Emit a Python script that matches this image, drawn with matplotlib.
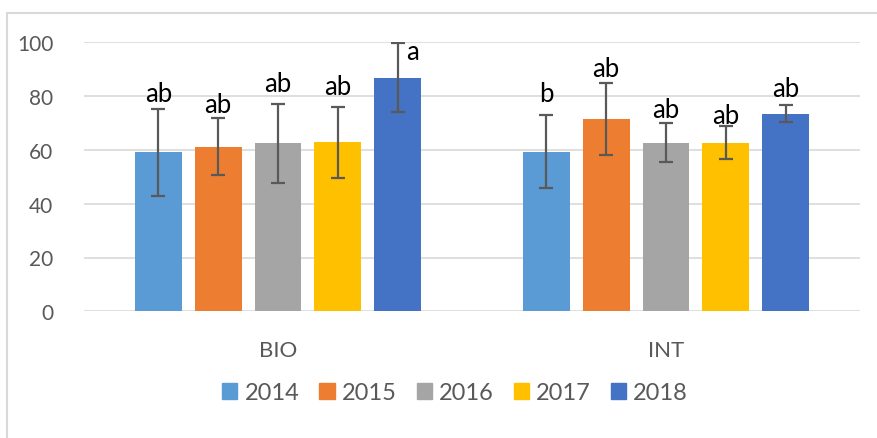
import matplotlib
matplotlib.use("Agg")
import matplotlib.pyplot as plt
from matplotlib.lines import Line2D
import numpy as np

plt.rcParams['font.family'] = ['Lato', 'DejaVu Sans']

categories = ["BIO", "INT"]
years = ["2014", "2015", "2016", "2017", "2018"]
# values[year][category]
values = {
    "2014": [59.1, 59.3],
    "2015": [61.2, 71.5],
    "2016": [62.4, 62.7],
    "2017": [62.8, 62.7],
    "2018": [86.9, 73.5],
}
errors = {
    "2014": [16.2, 13.6],
    "2015": [10.6, 13.5],
    "2016": [14.8, 7.3],
    "2017": [13.3, 6.2],
    "2018": [12.7, 3.2],
}
letters = {
    "2014": ["ab", "b"],
    "2015": ["ab", "ab"],
    "2016": ["ab", "ab"],
    "2017": ["ab", "ab"],
    "2018": ["a", "ab"],
}
letter_y = {
    "2014": [78.3, 78.3],
    "2015": [74.0, 87.6],
    "2016": [82.0, 72.1],
    "2017": [80.8, 70.0],
    "2018": [93.8, 79.9],
}
yticks = [0, 20, 40, 60, 80, 100]

colors = ["#5B9BD5", "#ED7D31", "#A5A5A5", "#FFC000", "#4472C4"]
letter_dx = {"2018": [0.038, 0.0]}

W, H = 877, 439
fig = plt.figure(figsize=(W / 100, H / 100), dpi=100)
ax = fig.add_axes([84 / W, 1 - 312.3 / H, (860 - 84) / W, (312.3 - 43.3) / H])

x = np.arange(len(categories))
step = 0.154
width = 0.121
for i, yr in enumerate(years):
    pos = x + (i - 2) * step
    ax.bar(pos, values[yr], width=width, color=colors[i], zorder=3, label=yr)
    ax.errorbar(pos, values[yr], yerr=errors[yr], fmt='none', ecolor='#595959',
                elinewidth=1.6, capsize=5, capthick=1.6, zorder=4)
    dx = letter_dx.get(yr, [0.0, 0.0])
    for j in range(len(categories)):
        ax.text(pos[j] + dx[j], letter_y[yr][j], letters[yr][j], ha='center',
                va='baseline', fontsize=18.5, color='black', zorder=5)

ax.set_xlim(-0.5, 1.5)
ax.set_ylim(0, 100)
ax.set_yticks(yticks)
ax.set_yticklabels([str(t) for t in yticks])
ax.set_xticks(x)
ax.set_xticklabels(categories)
ax.grid(axis='y', color='#D9D9D9', linewidth=1.2, zorder=0)
for s in ax.spines.values():
    s.set_visible(False)
ax.tick_params(axis='both', length=0, labelsize=15, colors='#595959')
ax.tick_params(axis='y', pad=22)
ax.tick_params(axis='x', pad=21)
for lbl in ax.get_xticklabels():
    lbl.set_fontsize(16)

handles = [plt.Rectangle((0, 0), 1, 1, color=c) for c in colors]
leg = fig.legend(handles, years, loc='center', bbox_to_anchor=(455 / W, 1 - 394 / H),
                 ncol=5, frameon=False, fontsize=17, handlelength=0.64, handleheight=0.64,
                 handletextpad=0.3, columnspacing=0.85)
for t in leg.get_texts():
    t.set_color('#595959')

# outer chart border (top and left visible)
fig.add_artist(Line2D([7 / W, 1.0], [1 - 14 / H, 1 - 14 / H], color='#D9D9D9', linewidth=1.5,
                      transform=fig.transFigure))
fig.add_artist(Line2D([7 / W, 7 / W], [0.0, 1 - 14 / H], color='#D9D9D9', linewidth=1.5,
                      transform=fig.transFigure))

fig.savefig("out.png", dpi=100)
